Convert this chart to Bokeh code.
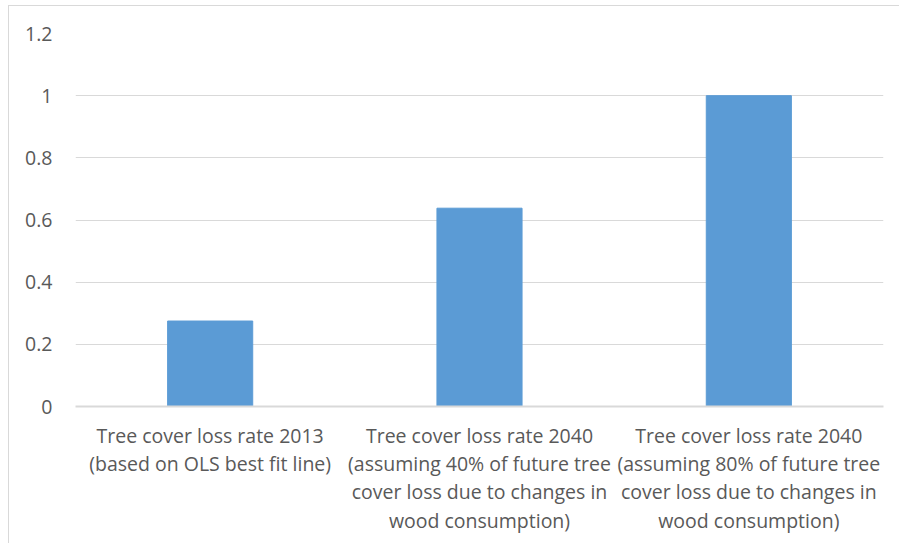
from bokeh.plotting import figure
from bokeh.models import ColumnDataSource, FactorRange, Range1d, FixedTicker
from bokeh.embed import file_html
from bokeh.resources import INLINE

categories = [
    "Tree cover loss rate 2013\n(based on OLS best fit line)",
    "Tree cover loss rate 2040\n(assuming 40% of future tree\ncover loss due to changes in\nwood consumption)",
    "Tree cover loss rate 2040\n(assuming 80% of future tree\ncover loss due to changes in\nwood consumption)",
]
values = [0.275, 0.638, 1.0]
y_ticks = [0, 0.2, 0.4, 0.6, 0.8, 1.0, 1.2]
y_tick_labels = ["0", "0.2", "0.4", "0.6", "0.8", "1", "1.2"]

FONT = "Open Sans"
TXT = "#595959"
GRID = "#d9d9d9"

src = ColumnDataSource(dict(cat=categories, val=values))

p = figure(
    width=891, height=538,
    x_range=FactorRange(*categories, range_padding=0),
    y_range=Range1d(0, 1.2),
    output_backend="svg", toolbar_location=None,
    min_border_left=66, min_border_right=17, min_border_top=27, min_border_bottom=138,
)
p.styles = {"border-top": "1px solid #d9d9d9", "border-left": "1px solid #d9d9d9",
            "margin-left": "8px", "margin-top": "5px"}
p.outline_line_color = None
p.vbar(x="cat", top="val", width=0.316, source=src, color="#5B9BD5")

p.yaxis.ticker = FixedTicker(ticks=y_ticks)
p.yaxis.major_label_overrides = {t: l for t, l in zip(y_ticks, y_tick_labels)}
p.yaxis.axis_line_color = None
p.yaxis.major_tick_line_color = None
p.yaxis.minor_tick_line_color = None
p.yaxis.major_label_standoff = 17
p.yaxis.major_label_text_font = FONT
p.yaxis.major_label_text_font_size = "19.5px"
p.yaxis.major_label_text_color = TXT

p.xaxis.axis_line_color = GRID
p.xaxis.axis_line_width = 2
p.xaxis.major_tick_line_color = None
p.xaxis.minor_tick_line_color = None
p.xaxis.major_label_standoff = 9
p.xaxis.major_label_text_font = FONT
p.xaxis.major_label_text_font_size = "19.5px"
p.xaxis.major_label_text_color = TXT
p.xaxis.major_label_text_line_height = 1.05
p.xaxis.major_label_text_align = "center"

p.xgrid.grid_line_color = None
p.ygrid.grid_line_color = GRID
p.ygrid.grid_line_width = 1

open("out.html", "w").write(file_html(p, INLINE))
